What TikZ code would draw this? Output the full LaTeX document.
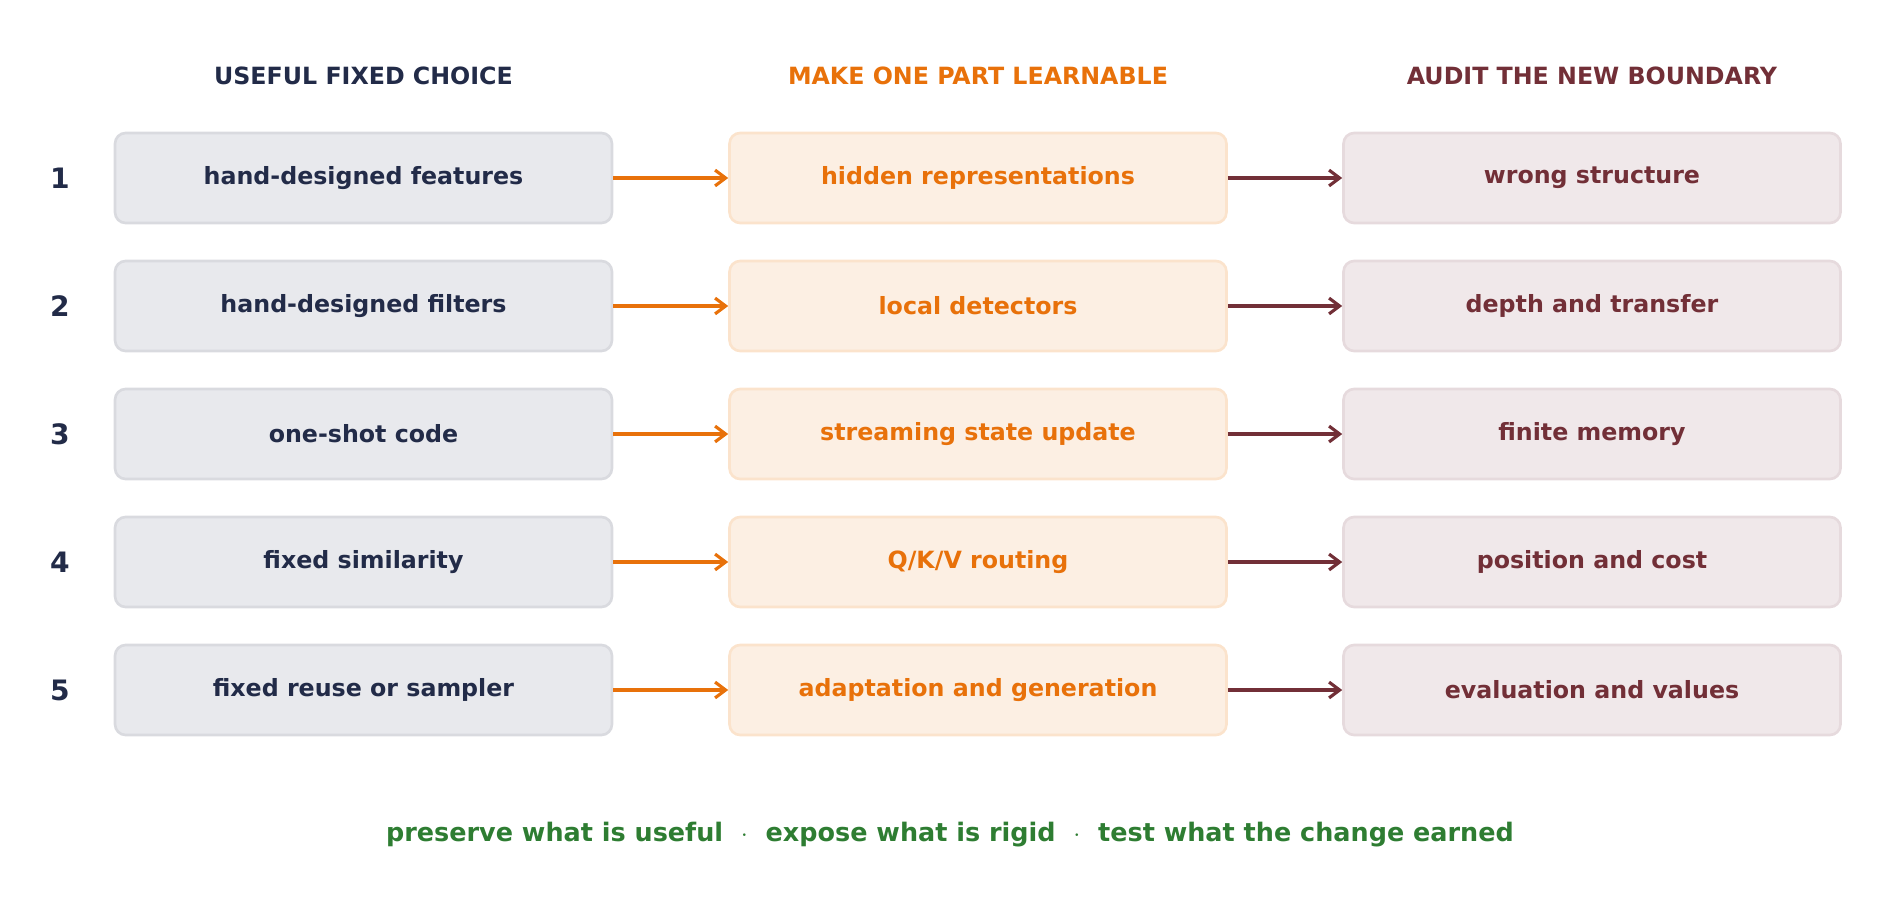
\documentclass[tikz,border=0pt]{standalone}
\usepackage{fontspec}
\setmainfont{DejaVu Sans}
\usetikzlibrary{arrows.meta}
\definecolor{navy}{HTML}{222B48}
\definecolor{org}{HTML}{E8710A}
\definecolor{mar}{HTML}{722F37}
\definecolor{grn}{HTML}{2E7D32}
\definecolor{f1}{HTML}{E8E9ED}\definecolor{d1}{HTML}{D9DADF}
\definecolor{f2}{HTML}{FCEFE3}\definecolor{d2}{HTML}{FBE3CC}
\definecolor{f3}{HTML}{F0E8EA}\definecolor{d3}{HTML}{E6DADD}
\begin{document}
\begin{tikzpicture}[x=0.02cm,y=-0.02cm,
 box/.style={rounded corners=6pt,minimum width=9.94cm,minimum height=1.8cm,line width=1.5pt,font=\bfseries\fontsize{13.5}{16}\selectfont},
 b1/.style={box,fill=f1,draw=d1,text=navy},
 b2/.style={box,fill=f2,draw=d2,text=org},
 b3/.style={box,fill=f3,draw=d3,text=mar},
 hd/.style={font=\bfseries\fontsize{13.5}{16}\selectfont},
 num/.style={font=\bfseries\fontsize{16}{18}\selectfont,text=navy},
 arr/.style={-{Straight Barb[length=6pt,width=9pt]},line width=1.8pt}]
\useasboundingbox (0,0) rectangle (1900,902);
\node[hd,text=navy] (h1) at (363.5,76) {USEFUL FIXED CHOICE};
\node[hd,text=org] (h2) at (978,76) {MAKE ONE PART LEARNABLE};
\node[hd,text=mar] (h3) at (1592,76) {AUDIT THE NEW BOUNDARY};
\foreach \i/\a/\b/\c in {1/hand-designed features/hidden representations/wrong structure,
 2/hand-designed filters/local detectors/depth and transfer,
 3/one-shot code/streaming state update/finite memory,
 4/fixed similarity/Q\slash K\slash V routing/position and cost,
 5/fixed reuse or sampler/adaptation and generation/evaluation and values}{
 \pgfmathsetmacro\yy{178+128*(\i-1)}
 \node[num] (n\i) at (60,\yy) {\i};
 \node[b1] (a\i) at (363.5,\yy) {\a};
 \node[b2] (b\i) at (978,\yy) {\b};
 \node[b3] (c\i) at (1592,\yy) {\c};
 \draw[arr,org] (a\i.east) -- (b\i.west);
 \draw[arr,mar] (b\i.east) -- (c\i.west);
}
\node[font=\bfseries\fontsize{14.5}{17}\selectfont,text=grn] (ft) at (950,835) {preserve what is useful \ $\cdot$ \ expose what is rigid \ $\cdot$ \ test what the change earned};
\end{tikzpicture}
\end{document}
